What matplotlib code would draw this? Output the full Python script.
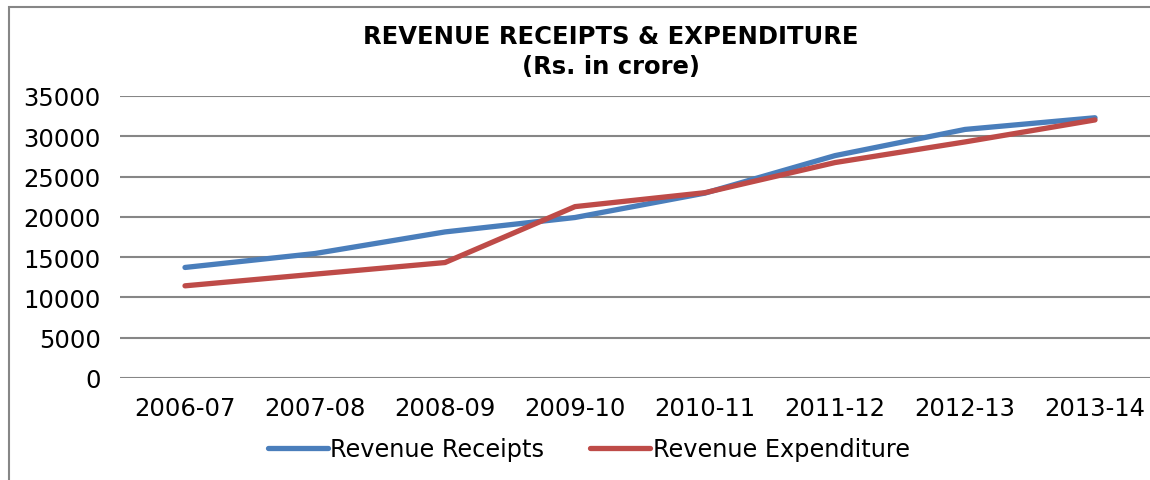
import matplotlib.pyplot as plt
from matplotlib.patches import Rectangle

years = ['2006-07', '2007-08', '2008-09', '2009-10', '2010-11', '2011-12', '2012-13', '2013-14']
receipts = [13720, 15450, 18130, 19920, 22950, 27600, 30850, 32300]
expenditure = [11440, 12890, 14330, 21270, 23000, 26740, 29300, 32030]
yticks = [0, 5000, 10000, 15000, 20000, 25000, 30000, 35000]

blue = '#4A7EBB'
red = '#BE4B48'

fig = plt.figure(figsize=(11.5, 4.81), dpi=100)
ax = fig.add_axes([120 / 1150, 102 / 481, 1040 / 1150, 282 / 481])

x = range(len(years))
ax.plot(x, receipts, color=blue, lw=3.8, solid_capstyle='round', label='Revenue Receipts')
ax.plot(x, expenditure, color=red, lw=3.8, solid_capstyle='round', label='Revenue Expenditure')

ax.set_xlim(-0.5, len(years) - 0.5)
ax.set_ylim(0, 35000)
ax.set_yticks(yticks)
ax.set_xticks(list(x))
ax.set_xticklabels(years)
ax.yaxis.grid(True, color='#868686', lw=1.5)
ax.set_axisbelow(True)
for s in ax.spines.values():
    s.set_visible(False)
ax.tick_params(axis='both', length=0, labelsize=17.5, colors='black')
ax.tick_params(axis='y', pad=14)
ax.tick_params(axis='x', pad=13)

fig.text(0.531, 1 - 52 / 481, 'REVENUE RECEIPTS & EXPENDITURE\n(Rs. in crore)',
         ha='center', va='center', fontsize=17.5, fontweight='bold', linespacing=1.35)

leg = fig.legend(loc='center', bbox_to_anchor=(0.512, 1 - 450 / 481), ncol=2, frameon=False,
                 fontsize=17.3, handlelength=2.5, handletextpad=0.1, columnspacing=1.9)

fig.patches.append(Rectangle((9 / 1150, -0.1), 1.2, 1 - 8 / 481 + 0.1, transform=fig.transFigure,
                             fill=False, edgecolor='#868686', lw=1.5))

fig.savefig('out.png', dpi=100)
